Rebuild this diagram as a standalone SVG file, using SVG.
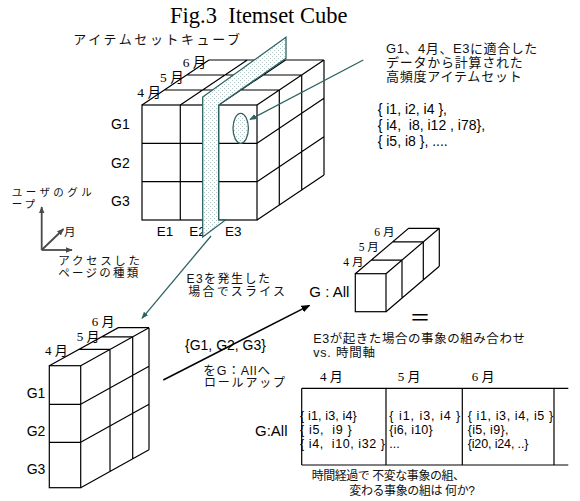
<svg xmlns="http://www.w3.org/2000/svg" width="580" height="501" viewBox="0 0 580 501">
<defs>
<style>
.ln{stroke:#000;stroke-width:1.2;fill:none}
.tl{stroke:#2f6262;stroke-width:1.3;fill:none}
.ax{stroke:#4a4a4a;stroke-width:1.8;fill:none}
.ttl{font-family:"Liberation Serif",serif;font-size:22.5px;fill:#000}
.mon{font-family:"Liberation Serif","Noto Sans CJK JP",serif;fill:#000}
.lat{font-family:"Liberation Sans","Noto Sans CJK JP",sans-serif;fill:#000}
.jp{font-family:"Liberation Sans","Noto Sans CJK JP",sans-serif;fill:#111}
</style>
<pattern id="dots" width="4" height="4" patternUnits="userSpaceOnUse">
<rect width="4" height="4" fill="#ffffff"/>
<rect x="0" y="0" width="1" height="1" fill="#b2c6c6"/>
<rect x="2" y="2" width="1" height="1" fill="#b2c6c6"/>
</pattern>
<marker id="ahT" viewBox="0 0 10 10" refX="9" refY="5" markerWidth="7" markerHeight="7" orient="auto" markerUnits="userSpaceOnUse">
<path d="M0,1 L10,5 L0,9 Z" fill="#2f6262"/>
</marker>
<marker id="ahK" viewBox="0 0 10 10" refX="9" refY="5" markerWidth="9" markerHeight="9" orient="auto" markerUnits="userSpaceOnUse">
<path d="M0,1 L10,5 L0,9 Z" fill="#000"/>
</marker>
<marker id="ahA" viewBox="0 0 10 10" refX="9" refY="5" markerWidth="7" markerHeight="7" orient="auto" markerUnits="userSpaceOnUse">
<path d="M0,1 L10,5 L0,9 Z" fill="#4a4a4a"/>
</marker>
</defs>
<rect width="580" height="501" fill="#fff"/>

<text class="ttl" x="170" y="22.7" xml:space="preserve">Fig.3  Itemset Cube</text>

<g id="cube-label">
<text class="jp" x="73.3" y="44" font-size="13" textLength="166.7" lengthAdjust="spacing">アイテムセットキューブ</text>
</g>

<g id="main-cube">
<rect class="ln" x="142" y="105" width="115" height="115"/>
<path class="ln" d="M180.3,105V220M218.6,105V220M142,143.3H257M142,181.7H257"/>
<path class="ln" d="M164.3,90H279.3M186.7,75H301.7M209,60H324M142,105L209,60M180.3,105L247.3,60M218.6,105L285.6,60M257,105L324,60"/>
<path class="ln" d="M279.3,90V205M301.7,75V190M324,60V175M257,143.3L324,98.3M257,181.7L324,136.7M257,220L324,175"/>
<text class="mon" x="137.3" y="96.5" font-size="13.5">4 月</text>
<text class="mon" x="160" y="82" font-size="13.5">5 月</text>
<text class="mon" x="182.7" y="66.5" font-size="13.5">6 月</text>
<text class="lat" x="111" y="129.3" font-size="14">G1</text>
<text class="lat" x="111" y="168.3" font-size="14">G2</text>
<text class="lat" x="111" y="205.5" font-size="14">G3</text>
<text class="lat" x="156.7" y="236" font-size="13.5">E1</text>
<text class="lat" x="189.3" y="236" font-size="13.5">E2</text>
<text class="lat" x="225" y="236" font-size="13.5">E3</text>
</g>

<g id="slice-plane">
<path d="M202.7,237 L202.7,97 L286,37.3 L286,58.3 L218.6,105 L218.6,220 L225.5,220 Z" fill="url(#dots)" stroke="#2f6262" stroke-width="1.3" stroke-linejoin="miter"/>
<ellipse cx="240.7" cy="128.3" rx="7.7" ry="15" fill="url(#dots)" stroke="#2f6262" stroke-width="1.3"/>
</g>

<g id="itemset-note">
<text class="jp" x="386" y="53" font-size="13" textLength="151.3" lengthAdjust="spacing">G1、4月、E3に適合した</text>
<text class="jp" x="386" y="67" font-size="13" textLength="136.7" lengthAdjust="spacing">データから計算された</text>
<text class="jp" x="386" y="80.5" font-size="13" textLength="135.7" lengthAdjust="spacing">高頻度アイテムセット</text>
<text class="lat" x="377.7" y="114" font-size="14" xml:space="preserve">{ i1, i2, i4 },</text>
<text class="lat" x="377.7" y="130" font-size="14" xml:space="preserve">{ i4,  i8, i12 , i78},</text>
<text class="lat" x="377.7" y="146" font-size="14" xml:space="preserve">{ i5, i8 }, ....</text>
</g>

<g id="axes">
<path class="ax" d="M41.7,250V207" marker-end="url(#ahA)"/>
<path class="ax" d="M41.7,250H72" marker-end="url(#ahA)"/>
<path class="ax" d="M41.7,250L63.5,229" marker-end="url(#ahA)"/>
<text class="jp" x="11.7" y="195.8" font-size="10.5" textLength="80" lengthAdjust="spacing">ユーザのグル</text>
<text class="jp" x="11.7" y="207.8" font-size="10.5" textLength="23.3" lengthAdjust="spacing">ープ</text>
<text class="jp" x="64" y="236" font-size="11.5">月</text>
<text class="jp" x="58.3" y="265" font-size="11.5" textLength="81.7" lengthAdjust="spacing">アクセスした</text>
<text class="jp" x="58.3" y="276.5" font-size="11.5" textLength="80" lengthAdjust="spacing">ページの種類</text>
</g>

<g id="slice-cube">
<rect class="ln" x="49.3" y="365.7" width="31.4" height="122"/>
<path class="ln" d="M49.3,404.3H80.7M49.3,442.3H80.7"/>
<path class="ln" d="M49.3,365.7L118.3,327.7H149M78.9,349.4H110M101.8,336.8H132.7"/>
<path class="ln" d="M80.7,365.7L149,327.7M80.7,404.3L149,366.3M80.7,442.3L149,404.3M80.7,487.7L149,449.7M110,349.4V471.4M132.7,336.8V458.8M149,327.7V449.7"/>
<text class="mon" x="45" y="355" font-size="13">4 月</text>
<text class="mon" x="76.7" y="341" font-size="13">5 月</text>
<text class="mon" x="91.7" y="326" font-size="13">6 月</text>
<text class="lat" x="26.7" y="397.5" font-size="14">G1</text>
<text class="lat" x="26.7" y="435.5" font-size="14">G2</text>
<text class="lat" x="26.7" y="474" font-size="14">G3</text>
</g>

<g id="gall-cube">
<rect class="ln" x="355.3" y="273.7" width="30.7" height="38"/>
<path class="ln" d="M355.3,273.7L408.6,228.3H439.3M371.3,260.1H402M392.6,241.9H423.3"/>
<path class="ln" d="M386,273.7L439.3,228.3M386,311.7L439.3,266.3M439.3,228.3V266.3M402,260.1V298.1M423.3,241.9V279.9"/>
<text class="mon" x="343.3" y="266" font-size="11.5">4 月</text>
<text class="mon" x="358.7" y="251" font-size="11.5">5 月</text>
<text class="mon" x="374.3" y="235.5" font-size="11.5">6 月</text>
<text class="lat" x="309.3" y="297.3" font-size="15" xml:space="preserve">G : All</text>
<text x="409.5" y="325" font-family="'Noto Sans CJK JP',sans-serif" font-size="21" fill="#000">＝</text>
</g>

<g id="table">
<text class="jp" x="313.3" y="343" font-size="12.5" textLength="211.7" lengthAdjust="spacing">E3が起きた場合の事象の組み合わせ</text>
<text class="jp" x="313.3" y="356.5" font-size="12.5" textLength="61.7" lengthAdjust="spacing">vs. 時間軸</text>
<text class="mon" x="320" y="381" font-size="13">4 月</text>
<text class="mon" x="397.7" y="381" font-size="13">5 月</text>
<text class="mon" x="471.7" y="381" font-size="13">6 月</text>
<path class="ln" d="M301.7,388.3H568.3M301.7,465H568.3M301.7,388.3V465M386,388.3V465M462.3,388.3V465M554,388.3V465"/>
<text class="lat" x="255" y="436" font-size="15">G:All</text>
<text class="lat" x="300" y="420" font-size="12.5" xml:space="preserve" textLength="56.7" lengthAdjust="spacing">{ i1, i3, i4}</text>
<text class="lat" x="300" y="434" font-size="12.5" xml:space="preserve" textLength="51.7" lengthAdjust="spacing">{ i5,  i9 }</text>
<text class="lat" x="300" y="448" font-size="12.5" xml:space="preserve" textLength="85" lengthAdjust="spacing">{ i4,  i10, i32 }</text>
<text class="lat" x="389.3" y="420" font-size="12.5" xml:space="preserve" textLength="71" lengthAdjust="spacing">{ i1, i3, i4 }</text>
<text class="lat" x="389.3" y="434" font-size="12.5" textLength="43.4" lengthAdjust="spacing">{i6, i10}</text>
<text class="lat" x="389.3" y="448" font-size="12.5">...</text>
<text class="lat" x="467.7" y="420" font-size="12.5" xml:space="preserve" textLength="85.5" lengthAdjust="spacing">{ i1, i3, i4, i5 }</text>
<text class="lat" x="467.7" y="434" font-size="12.5" textLength="40.7" lengthAdjust="spacing">{i5, i9},</text>
<text class="lat" x="467.7" y="448" font-size="12.5" textLength="60.7" lengthAdjust="spacing">{i20, i24, ..}</text>
<text class="jp" x="311.7" y="479.5" font-size="12" textLength="153.3" lengthAdjust="spacing" xml:space="preserve">時間経過で 不変な事象の組、</text>
<text class="jp" x="349.3" y="494.5" font-size="12" textLength="125.7" lengthAdjust="spacing" xml:space="preserve">変わる事象の組は 何か?</text>
</g>

<g id="slice-label">
<text class="jp" x="186.5" y="283" font-size="12" textLength="83.5" lengthAdjust="spacing">E3を発生した</text>
<text class="jp" x="188.3" y="295.5" font-size="12" textLength="96.7" lengthAdjust="spacing">場合でスライス</text>
</g>

<g id="rollup-label">
<text class="lat" x="185" y="349.5" font-size="14">{G1, G2, G3}</text>
<text class="jp" x="203.3" y="374.5" font-size="12.5" textLength="66.7" lengthAdjust="spacing">をG：Allへ</text>
<text class="jp" x="204" y="387" font-size="12" textLength="81" lengthAdjust="spacing">ロールアップ</text>
</g>

<g id="connectors">
<path class="tl" d="M363.3,60L250,119.5" marker-end="url(#ahT)"/>
<path class="tl" d="M211,236L142,318.3" marker-end="url(#ahT)"/>
<path d="M163.3,380L309.5,305.3" stroke="#000" stroke-width="1.5" fill="none" marker-end="url(#ahK)"/>
</g>
</svg>
